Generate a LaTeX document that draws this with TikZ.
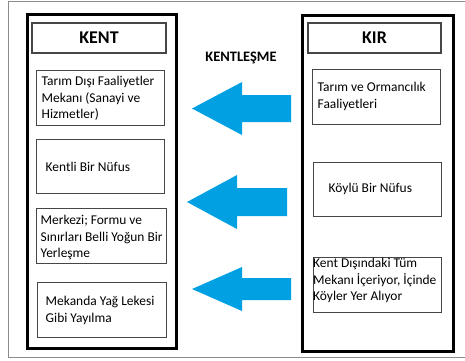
\documentclass[tikz,border=0pt]{standalone}
\usepackage{fontspec}
\setmainfont{Carlito}
\usetikzlibrary{calc}
\definecolor{arrowblue}{RGB}{0,160,227}
\definecolor{framegray}{RGB}{140,140,140}
\definecolor{boxgray}{RGB}{70,70,70}
\tikzset{
  bigbox/.style={draw=black, line width=3bp, fill=white},
  titlebox/.style={draw=boxgray, line width=1.2bp, inner sep=0pt, minimum height=30bp,
    font=\fontsize{18}{21}\selectfont\bfseries},
  itembox/.style={draw=boxgray, line width=1bp, inner sep=0pt},
  itemtxt/.style={inner sep=0pt, align=left, anchor=west, font=\fontsize{13.5}{16.5}\selectfont},
  flow/.style={fill=arrowblue, draw=none},
}
\newcommand{\blockarrow}[6]{% tipx, y, backx, headhalf, shafthalf, endx
  \fill[flow] (#1,#2) -- (#3,#2-#4) -- (#3,#2-#5) -- (#6,#2-#5) -- (#6,#2+#5) -- (#3,#2+#5) -- (#3,#2+#4) -- cycle;}
\begin{document}
\begin{tikzpicture}[x=1bp, y=-1bp]
\useasboundingbox (0,0) rectangle (465,360);
% outer frame (open on the right)
\draw[framegray, line width=1bp] (466,1.5) -- (8,1.5) -- (8,357) -- (466,357);

% big containers
\node[bigbox, minimum width=148bp, minimum height=334bp] (kent) at (102,181) {};
\node[bigbox, minimum width=151bp, minimum height=336bp] (kir) at (377.5,183) {};

% titles
\node[titlebox, minimum width=134bp] (kentT) at (99,38) {KENT};
\node[titlebox, minimum width=133bp] (kirT) at (374.5,38) {KIR};

% KENT items
\node[itembox, minimum width=128bp, minimum height=55bp] (k1) at (100,97.5) {};
\node[itembox, minimum width=128bp, minimum height=54bp] (k2) at (100,166) {};
\node[itembox, minimum width=130bp, minimum height=55bp] (k3) at (101,235.5) {};
\node[itembox, minimum width=129bp, minimum height=55bp] (k4) at (101.5,309.5) {};
\node[itemtxt] (k1t) at ($(k1.west)+(6,1)$) {Tarım Dışı Faaliyetler\\Mekanı (Sanayi ve\\Hizmetler)};
\node[itemtxt] (k2t) at ($(k2.west)+(10,1)$) {Kentli Bir Nüfus};
\node[itemtxt] (k3t) at ($(k3.west)+(5,2)$) {Merkezi; Formu ve\\Sınırları Belli Yoğun Bir\\Yerleşme};
\node[itemtxt] (k4t) at ($(k4.west)+(9,1)$) {Mekanda Yağ Lekesi\\Gibi Yayılma};

% KIR items
\node[itembox, minimum width=128bp, minimum height=55bp] (r1) at (376,96.5) {};
\node[itembox, minimum width=128bp, minimum height=54bp] (r2) at (377,189) {};
\node[itembox, minimum width=128bp, minimum height=55bp] (r3) at (377,284.5) {};
\node[itemtxt] (r1t) at ($(r1.west)+(6,0)$) {Tarım ve Ormancılık\\Faaliyetleri};
\node[itemtxt] (r2t) at ($(r2.west)+(16,0)$) {Köylü Bir Nüfus};
\node[itemtxt] (r3t) at ($(r3.west)+(0.5,-4)$) {Kent Dışındaki Tüm\\Mekanı İçeriyor, İçinde\\Köyler Yer Alıyor};

% process label
\node[inner sep=0pt, font=\fontsize{14.5}{17}\selectfont\bfseries] (proc) at (241,58) {KENTLEŞME};

% block arrows (from KIR towards KENT)
\blockarrow{192}{108.5}{242}{26.5}{13.5}{291}
\blockarrow{187}{202}{237}{27}{14}{287}
\blockarrow{192}{289}{242}{22}{11}{291}
\end{tikzpicture}
\end{document}
